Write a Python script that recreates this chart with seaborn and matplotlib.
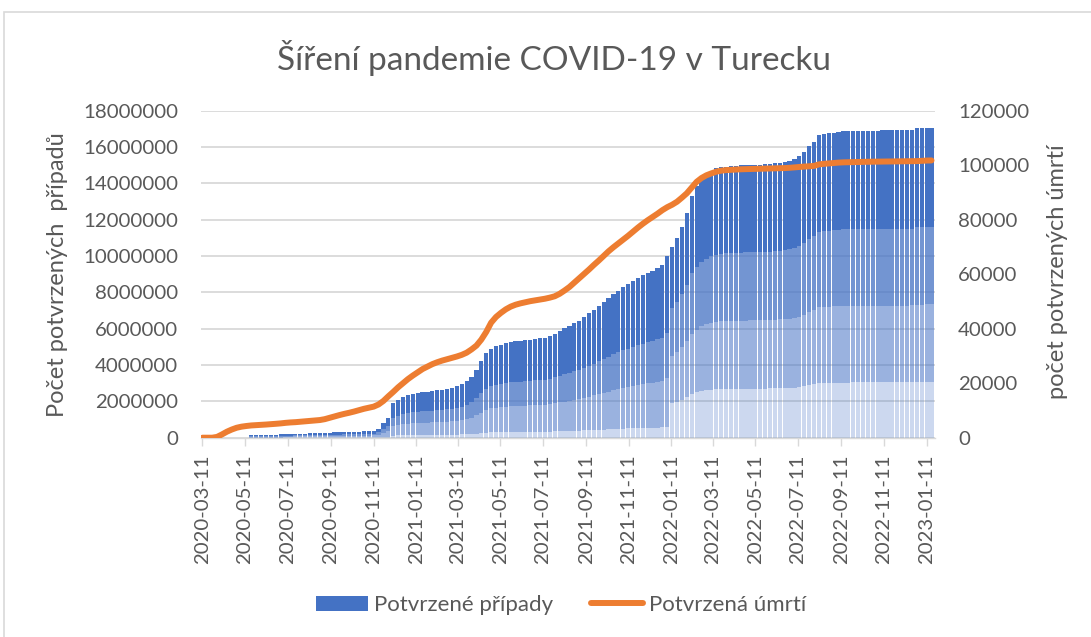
import numpy as np
import pandas as pd
import matplotlib
matplotlib.use("Agg")
import matplotlib.pyplot as plt
import matplotlib.dates as mdates
from matplotlib.patches import Patch, Rectangle
from matplotlib.lines import Line2D
import seaborn as sns

# weekly values, starting 2020-03-11
start_date = "2020-03-11"

cases_mil = [
    0, 0, 0, 0, 0, 0, 0, 0, 0, 0,
    0.15, 0.155, 0.16, 0.165, 0.17, 0.175, 0.18, 0.19, 0.2, 0.21,
    0.22, 0.23, 0.24, 0.25, 0.26, 0.27, 0.28, 0.29, 0.3, 0.31,
    0.32, 0.33, 0.34, 0.35, 0.36, 0.38, 0.5, 0.8, 1.1, 1.9,
    2.1, 2.25, 2.33, 2.4, 2.45, 2.49, 2.52, 2.55, 2.6, 2.64,
    2.68, 2.75, 2.85, 2.95, 3.1, 3.35, 3.75, 4.2, 4.65, 4.9,
    5.03, 5.12, 5.2, 5.25, 5.3, 5.33, 5.36, 5.39, 5.43, 5.47,
    5.51, 5.6, 5.73, 5.88, 6.02, 6.15, 6.3, 6.45, 6.65, 6.85,
    7.04, 7.25, 7.47, 7.69, 7.9, 8.1, 8.28, 8.45, 8.62, 8.78,
    8.94, 9.08, 9.2, 9.33, 9.5, 9.98, 10.5, 10.98, 11.6, 12.35,
    13.3, 13.85, 14.25, 14.5, 14.7, 14.82, 14.88, 14.92, 14.95, 14.97,
    14.99, 15.0, 15.01, 15.02, 15.03, 15.04, 15.06, 15.1, 15.14, 15.18,
    15.25, 15.35, 15.5, 15.75, 16.05, 16.3, 16.68, 16.72, 16.75, 16.8,
    16.84, 16.86, 16.88, 16.89, 16.9, 16.9, 16.91, 16.91, 16.91, 16.92,
    16.92, 16.92, 16.92, 16.92, 16.92, 16.93, 17.05, 17.05, 17.06, 17.06,
]

deaths = [
    0, 0, 0, 300, 1200, 2200, 3000, 3650, 4050, 4300,
    4500, 4600, 4720, 4830, 4950, 5100, 5250, 5450, 5600, 5700,
    5850, 6000, 6150, 6300, 6480, 6800, 7300, 7800, 8300, 8750,
    9150, 9600, 10100, 10600, 11000, 11400, 12200, 13500, 15200, 16800,
    18500, 20000, 21500, 22800, 24000, 25200, 26100, 27000, 27700, 28300,
    28800, 29300, 29800, 30400, 31200, 32400, 33800, 36000, 38800, 42200,
    44300, 45800, 47100, 48100, 48800, 49300, 49700, 50100, 50400, 50700,
    51000, 51400, 51900, 52800, 54000, 55300, 56900, 58500, 60100, 61700,
    63400, 65000, 66700, 68400, 69900, 71300, 72700, 74100, 75600, 77100,
    78500, 79800, 81000, 82200, 83500, 84600, 85500, 86600, 88100, 89700,
    91800, 93900, 95300, 96300, 97000, 97600, 98000, 98200, 98300, 98400,
    98500, 98550, 98600, 98650, 98700, 98750, 98800, 98850, 98900, 98950,
    99050, 99200, 99350, 99500, 99600, 99750, 100300, 100500, 100650, 100800,
    100950, 101050, 101100, 101150, 101200, 101230, 101260, 101280, 101300, 101320,
    101340, 101360, 101380, 101400, 101420, 101440, 101500, 101600, 101700, 101750,
]

tick_dates = pd.date_range("2020-03-11", "2023-01-11", freq=pd.DateOffset(months=2))

title = "Šíření pandemie COVID-19 v Turecku"
left_label = "Počet potvrzených  případů"
right_label = "počet potvrzených úmrtí"
legend_labels = ["Potvrzené případy", "Potvrzená úmrtí"]


def main():
    sns.set_style("white")
    plt.rcParams["font.family"] = ["Lato", "DejaVu Sans"]
    text_color = "#595959"
    grid_color = "#D9D9D9"
    blue = "#4472C4"
    orange = "#ED7D31"
    tick_size = 14.7

    weeks = pd.date_range(start_date, periods=len(cases_mil), freq="7D")
    xnum = mdates.date2num(weeks)
    cases = np.array(cases_mil) * 1e6
    n = len(cases)

    W, H = 1091, 637
    fig = plt.figure(figsize=(W / 100, H / 100), dpi=100)
    ax = fig.add_axes([201 / W, 1 - 437.7 / H, (935 - 201) / W, (437.7 - 110.7) / H])
    ax.set_axisbelow(True)
    ax.yaxis.grid(True, color=grid_color, linewidth=1.3)
    ax.xaxis.grid(False)

    # Excel-like gradient fill, approximated with four bands
    late = np.asarray(weeks >= pd.Timestamp("2022-01-11"))
    cuts = np.where(late[:, None], [0.18, 0.43, 0.68], [0.06, 0.33, 0.58])
    edges = np.column_stack([np.zeros(n), cuts, np.ones(n)]) * cases[:, None]
    alphas = [0.27, 0.54, 0.75, 1.0]
    for i, a in enumerate(alphas):
        sns.barplot(x=xnum, y=edges[:, i + 1] - edges[:, i], bottom=edges[:, i],
                    native_scale=True, width=0.86, color=blue, saturation=1,
                    alpha=a, linewidth=0, errorbar=None, ax=ax)

    ax2 = ax.twinx()
    sns.lineplot(x=xnum, y=deaths, ax=ax2, color=orange, linewidth=4.3,
                 solid_capstyle="round")

    ax.set_xlim(xnum[0] - 2, xnum[0] + 1048)
    ax.set_ylim(0, 18e6)
    ax.set_yticks(np.arange(0, 18e6 + 1, 2e6))
    ax.set_yticklabels([f"{int(v)}" for v in np.arange(0, 18e6 + 1, 2e6)])
    ax.set_xticks(mdates.date2num(tick_dates))
    ax.set_xticklabels([d.strftime("%Y-%m-%d") for d in tick_dates], rotation=90)
    ax.tick_params(axis="x", bottom=True, length=6, width=1, color=grid_color,
                   pad=6, labelsize=tick_size, labelcolor=text_color, direction="out")
    ax.tick_params(axis="y", left=False, length=0, pad=16.5, labelsize=tick_size,
                   labelcolor=text_color)
    ax.set_xlabel("")
    ax.set_ylabel("")

    ax2.set_ylim(0, 120000)
    ax2.set_yticks(np.arange(0, 120001, 20000))
    ax2.set_yticklabels([f"{v}" for v in np.arange(0, 120001, 20000)])
    ax2.tick_params(axis="y", right=False, length=0, pad=16.5, labelsize=tick_size,
                    labelcolor=text_color)
    ax2.set_ylabel("")
    ax2.grid(False)

    for a in (ax, ax2):
        for s in ("top", "left", "right"):
            a.spines[s].set_visible(False)
    ax.spines["bottom"].set_color(grid_color)
    ax.spines["bottom"].set_linewidth(1)
    ax2.spines["bottom"].set_visible(False)

    fig.text(0.508, 0.909, title, ha="center", va="center", fontsize=24,
             color=text_color)
    fig.text(58 / W, 1 - 275 / H, left_label, rotation=90, ha="center",
             va="center", fontsize=17, color=text_color)
    fig.text(1058 / W, 1 - 272 / H, right_label, rotation=90, ha="center",
             va="center", fontsize=17, color=text_color)

    handles = [Patch(facecolor=blue, edgecolor="none"),
               Line2D([0], [0], color=orange, linewidth=4.3, solid_capstyle="round")]
    fig.legend(handles, legend_labels, loc="center", bbox_to_anchor=(0.5147, 0.050),
               ncol=2, frameon=False, fontsize=16, handlelength=2.34,
               handletextpad=0.27, columnspacing=1.7, labelcolor=text_color)

    fig.patches.append(Rectangle((4 / W, -0.5), 2, 1.5 - 12 / H, transform=fig.transFigure,
                                 fill=False, edgecolor=grid_color, linewidth=1.2))

    fig.savefig("out.png", dpi=100)


if __name__ == "__main__":
    main()
